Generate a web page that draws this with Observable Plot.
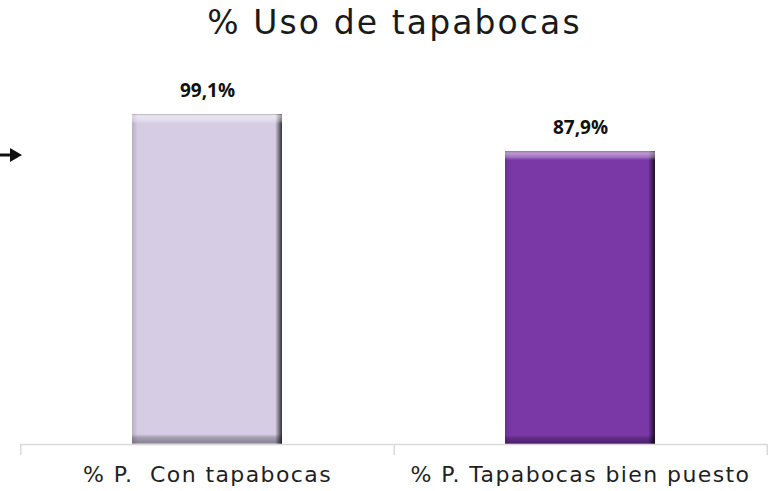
<!DOCTYPE html>
<html>
<head>
<meta charset="utf-8">
<script src="https://cdn.jsdelivr.net/npm/d3@7"></script>
<script src="https://cdn.jsdelivr.net/npm/@observablehq/plot@0.6"></script>
<style>
  html, body { margin: 0; padding: 0; background: #fff; }
  #wrap { position: relative; width: 769px; height: 491px; overflow: hidden; font-family: "DejaVu Sans", sans-serif; }
  #title { height: 55px; box-sizing: border-box; padding-left: 20px; padding-top: 3px; text-align: center; font-family: "DejaVu Sans", sans-serif; font-size: 33px; line-height: 40px; color: #1a1a1a; font-weight: normal; letter-spacing: 2.1px; white-space: nowrap; }
  #arrow { position: absolute; left: 0; top: 145px; }
</style>
</head>
<body>
<div id="wrap">
  <div id="title">% Uso de tapabocas</div>
  <div id="chart"></div>
  <svg id="arrow" width="26" height="22" viewBox="0 0 26 22">
    <line x1="0" y1="10" x2="12" y2="10" stroke="#111" stroke-width="3"></line>
    <path d="M10,3 L22,10 L10,17 Z" fill="#111"></path>
  </svg>
</div>
<script>
const categories = ["% P.\u00a0 Con tapabocas", "% P. Tapabocas bien puesto"];
const values = [99.1, 87.9];
const barColors = ["#d6cce4", "#7a38a7"];

const data = categories.map((c, i) => ({cat: c, value: values[i], color: barColors[i],
  label: values[i].toFixed(1).replace(".", ",") + "%"}));

const plotW = 769 - 20 - 2;
const step = plotW / categories.length;

const chart = Plot.plot({
  width: 769,
  height: 436,
  marginLeft: 20,
  marginRight: 2,
  marginTop: 56,
  marginBottom: 47,
  x: {domain: categories, paddingInner: 0.598, paddingOuter: 0.299, axis: null},
  y: {domain: [0, 100], axis: null},
  color: {type: "identity"},
  style: {fontFamily: "DejaVu Sans, sans-serif", background: "white", overflow: "visible"},
  marks: [
    Plot.barY(data, {x: "cat", y: "value", fill: "color"}),
    Plot.barY(data, {x: "cat", y: "value", fill: "url(#hgrad)"}),
    Plot.barY(data, {x: "cat", y: "value", fill: "url(#vgrad)"}),
    Plot.ruleY([0], {stroke: "#d9d9d9", strokeWidth: 1.5}),
    Plot.ruleX(categories, {x: d => d, dx: step / 2, y1: 0, y2: -3.3, stroke: "#d9d9d9", strokeWidth: 1.5}),
    Plot.ruleX(categories.slice(0, 1), {x: d => d, dx: -step / 2, y1: 0, y2: -3.3, stroke: "#d9d9d9", strokeWidth: 1.5}),
    Plot.text(data, {x: "cat", y: "value", text: "label", dy: -24, fontSize: 19, fontWeight: "bold", fill: "#111", fontFamily: "Open Sans, sans-serif"}),
    Plot.axisX(categories, {tickSize: 0, tickPadding: 22, fontSize: 22, label: null, fill: "#1f1f1f", fontFamily: "DejaVu Sans, sans-serif"})
  ]
});

d3.select(chart).selectAll('g[aria-label="x-axis tick label"]').style("letter-spacing", "1.4px");

const ns = "http://www.w3.org/2000/svg";
const defs = document.createElementNS(ns, "defs");
defs.innerHTML = `
  <linearGradient id="hgrad" x1="0" y1="0" x2="1" y2="0">
    <stop offset="0" stop-color="#000" stop-opacity="0.15"/>
    <stop offset="0.025" stop-color="#000" stop-opacity="0.05"/>
    <stop offset="0.04" stop-color="#000" stop-opacity="0"/>
    <stop offset="0.955" stop-color="#000" stop-opacity="0"/>
    <stop offset="0.975" stop-color="#000" stop-opacity="0.35"/>
    <stop offset="0.99" stop-color="#000" stop-opacity="0.6"/>
    <stop offset="1" stop-color="#000" stop-opacity="0.75"/>
  </linearGradient>
  <linearGradient id="vgrad" x1="0" y1="0" x2="0" y2="1">
    <stop offset="0" stop-color="#888" stop-opacity="0.45"/>
    <stop offset="0.005" stop-color="#fff" stop-opacity="0.5"/>
    <stop offset="0.02" stop-color="#fff" stop-opacity="0.3"/>
    <stop offset="0.03" stop-color="#fff" stop-opacity="0"/>
    <stop offset="0.97" stop-color="#000" stop-opacity="0"/>
    <stop offset="0.98" stop-color="#000" stop-opacity="0.22"/>
    <stop offset="0.995" stop-color="#000" stop-opacity="0.35"/>
    <stop offset="1" stop-color="#000" stop-opacity="0.15"/>
  </linearGradient>`;
chart.insertBefore(defs, chart.firstChild);
document.getElementById("chart").appendChild(chart);
</script>
</body>
</html>
